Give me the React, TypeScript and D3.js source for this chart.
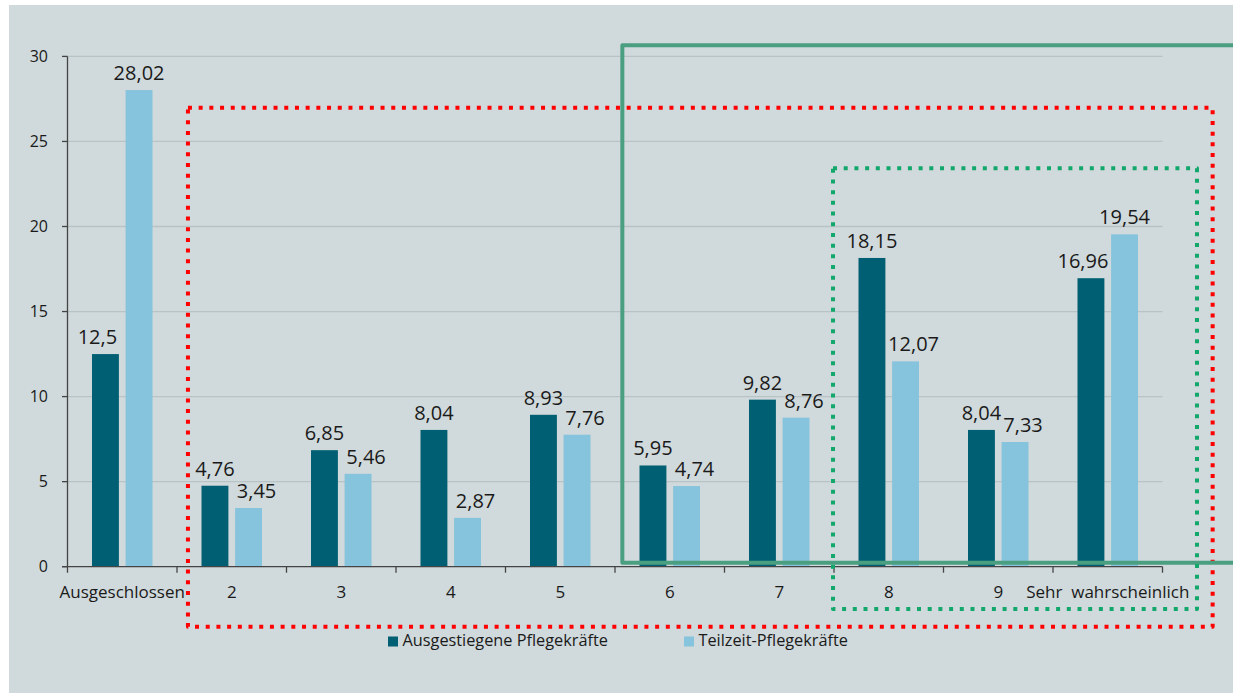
import React from "react";
import * as d3 from "d3";

const categories = ["Ausgeschlossen", "2", "3", "4", "5", "6", "7", "8", "9", "Sehr  wahrscheinlich"];
const ausgestiegene = [12.5, 4.76, 6.85, 8.04, 8.93, 5.95, 9.82, 18.15, 8.04, 16.96];
const teilzeit = [28.02, 3.45, 5.46, 2.87, 7.76, 4.74, 8.76, 12.07, 7.33, 19.54];
const seriesNames = ["Ausgestiegene Pflegekräfte", "Teilzeit-Pflegekräfte"];
const yTicks = [0, 5, 10, 15, 20, 25, 30];

// annotation boxes in (category-index units, value units)
const boxes = [
  { x0: 1.1, x1: 10.458, y0: 26.98, y1: -3.53, color: "#ff0000", dash: "4 6.7", width: 4 },
  { x0: 5.067, x1: 10.75, y0: 30.65, y1: 0.235, color: "#4a9f81", dash: "", width: 4 },
  { x0: 6.991, x1: 10.315, y0: 23.42, y1: -2.49, color: "#12a86c", dash: "4 6.7", width: 4 },
];

const W = 1233;
const H = 693;
const colors = ["#005f72", "#86c3dc"];
const font = "'Open Sans', sans-serif";

export default function App() {
  const left = 67.5;
  const right = 1162.5;
  const x0 = d3.scaleBand<string>().domain(categories).range([left, right]).padding(0);
  const bw = x0.bandwidth();
  const x1 = d3.scaleBand<string>().domain(["a", "b"]).range([24.5, 85]).paddingInner(0.2);
  const y = d3.scaleLinear().domain([0, 30]).range([566.7, 56.4]);
  const xi = d3.scaleLinear().domain([0, 10]).range([left, right]);

  const series = [ausgestiegene, teilzeit];
  const fmt = (v: number) => String(v).replace(".", ",");
  // shorter bar's label nudged outward to avoid crowding (like Excel's placement)
  const nudge = (i: number, j: number) => {
    const me = series[j][i];
    const other = series[1 - j][i];
    if (me >= other) return 0;
    return j === 0 ? -8 : 8;
  };

  return (
    <svg width={W} height={H} style={{ position: "absolute", left: 0, top: 0, background: "#fff" }} fontFamily={font}>
      <rect x={9} y={5} width={W - 9} height={H - 5} fill="#d0d9db" />
      {/* gridlines */}
      {yTicks.filter((t) => t > 0).map((t) => (
        <line key={t} x1={left} x2={right} y1={y(t)} y2={y(t)} stroke="#b7c3c5" strokeWidth={1.3} />
      ))}
      {/* bars */}
      {categories.map((c, i) => (
        <g key={c} transform={`translate(${x0(c)},0)`}>
          {series.map((s, j) => {
            const key = j === 0 ? "a" : "b";
            const bx = x1(key)!;
            return (
              <g key={key}>
                <rect x={bx} y={y(s[i])} width={x1.bandwidth()} height={y(0) - y(s[i])} fill={colors[j]} />
                <text
                  x={bx + x1.bandwidth() / 2 + nudge(i, j)}
                  y={y(s[i]) - 10}
                  textAnchor="middle"
                  fontSize={20}
                  fill="#1a1a1a"
                >
                  {fmt(s[i])}
                </text>
              </g>
            );
          })}
        </g>
      ))}
      {/* y axis */}
      <line x1={left} x2={left} y1={y(30)} y2={y(0) + 6} stroke="#444" strokeWidth={1.3} />
      {yTicks.map((t) => (
        <g key={t}>
          <line x1={left - 5.5} x2={left} y1={y(t)} y2={y(t)} stroke="#444" strokeWidth={1.3} />
          <text x={48} y={y(t)} dy="0.36em" textAnchor="end" fontSize={16} fill="#1a1a1a">
            {t}
          </text>
        </g>
      ))}
      {/* x axis */}
      <line x1={left - 5.5} x2={right} y1={y(0)} y2={y(0)} stroke="#444" strokeWidth={1.3} />
      {categories.map((c, i) => (
        <g key={c}>
          <line x1={x0(c)! + bw} x2={x0(c)! + bw} y1={y(0)} y2={y(0) + 6} stroke="#444" strokeWidth={1.3} />
          <text x={x0(c)! + bw / 2} y={598} textAnchor="middle" fontSize={17} fill="#1a1a1a" style={{ whiteSpace: "pre" }}>
            {c}
          </text>
        </g>
      ))}
      {/* legend */}
      {seriesNames.map((n, j) => {
        const lx = j === 0 ? 388 : 684;
        return (
          <g key={n}>
            <rect x={lx} y={636.5} width={10} height={10} fill={colors[j]} />
            <text x={lx + 14.5} y={646} fontSize={16.3} fill="#1a1a1a">
              {n}
            </text>
          </g>
        );
      })}
      {/* annotation boxes */}
      {boxes.map((b, k) => (
        <rect
          key={k}
          x={xi(b.x0)}
          y={y(b.y0)}
          width={xi(b.x1) - xi(b.x0)}
          height={y(b.y1) - y(b.y0)}
          fill="none"
          stroke={b.color}
          strokeWidth={b.width}
          strokeDasharray={b.dash || undefined}
          strokeLinejoin="round"
        />
      ))}
    </svg>
  );
}
